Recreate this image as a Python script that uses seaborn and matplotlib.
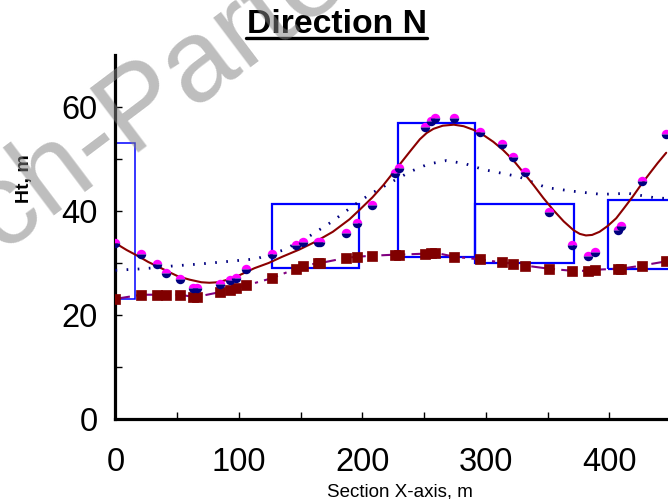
import matplotlib
matplotlib.use('Agg')
import matplotlib.pyplot as plt
from matplotlib.patches import Rectangle
from matplotlib.lines import Line2D
import seaborn as sns

sns.set_style('white')
plt.rcParams['font.family'] = ['Liberation Sans', 'DejaVu Sans']
plt.rcParams['text.color'] = 'black'
plt.rcParams['axes.labelcolor'] = 'black'
plt.rcParams['xtick.color'] = 'black'
plt.rcParams['ytick.color'] = 'black'

# 测点位置 (m)
x_pts = [0, 21, 34, 41, 52, 63, 66, 84.5, 92.5, 97.5, 106, 127, 146, 152, 164, 166,
         187, 195.5, 208, 226, 229.5, 251, 255.5, 258.5, 274.5, 295, 313, 322, 332,
         351, 370, 382.5, 388, 407, 409.5, 426, 445.5]
# 树高测点
ht_top = [33.9, 31.8, 29.8, 28.1, 26.9, 25.2, 25.2, 25.9, 26.7, 27.2, 28.8, 31.8, 33.4,
          34.0, 34.0, 34.0, 35.8, 37.7, 41.1, 47.3, 48.3, 56.2, 57.3, 57.8, 57.8, 55.2,
          52.8, 50.4, 47.5, 39.8, 33.4, 31.4, 32.2, 36.3, 37.2, 45.7, 54.9]
# 地面高程
ht_ground = [23.1, 23.9, 23.9, 23.9, 23.9, 23.5, 23.5, 24.4, 24.8, 25.2, 25.7, 27.1, 28.9,
             29.4, 30.0, 30.0, 31.0, 31.2, 31.4, 31.6, 31.6, 31.8, 31.9, 32.0, 31.2, 30.7,
             30.1, 29.9, 29.5, 28.9, 28.5, 28.5, 28.7, 28.9, 28.9, 29.5, 30.3]

# 拟合曲线
fit_x = [0, 9, 18.5, 26.5, 34.5, 43, 51, 60, 69.5, 76, 83, 91, 99, 112.5, 124, 135, 149,
         162, 176, 189.5, 198, 208, 217, 224, 231, 239, 246.5, 252, 257.5, 265, 274, 282,
         290, 298, 306, 314, 322, 330, 338.5, 346.5, 354.5, 363, 371, 376, 381, 386, 392,
         398.5, 405.5, 412, 419, 425.5, 432.5, 439, 446]
fit_y = [33.8, 32.5, 31.3, 30.2, 29.3, 28.3, 27.4, 26.8, 26.3, 26.2, 26.3, 26.8, 27.5,
         29.0, 30.0, 31.2, 32.6, 34.1, 36.0, 38.4, 40.3, 42.6, 45.0, 47.1, 49.2, 51.6,
         53.8, 55.0, 55.8, 56.4, 56.6, 56.3, 55.6, 54.6, 53.3, 51.7, 49.8, 47.5, 45.0,
         42.5, 40.2, 38.0, 36.3, 35.6, 35.3, 35.4, 36.0, 37.1, 38.6, 40.6, 42.8, 45.0,
         47.2, 49.2, 51.2]

# 平滑曲线 (点线)
smooth_x = [0, 23, 45, 68, 91, 114, 136, 156, 175, 193, 206, 226, 239, 253, 268, 283,
            297.5, 326.5, 349, 370.5, 393.5, 415, 438, 460]
smooth_y = [28.6, 28.9, 29.4, 29.8, 30.3, 30.8, 32.5, 35.0, 37.9, 41.1, 43.2, 45.9, 47.6,
            49.0, 49.7, 49.1, 48.0, 46.6, 44.5, 43.8, 43.2, 43.4, 42.5, 42.3]

# 分段方框
box_left = [0, 127, 229, 291, 399]
box_right = [16, 197.5, 291, 371, 470]
box_bottom = [23, 29, 31.2, 30, 28.8]
box_top = [53, 41.3, 57, 41.3, 42.1]

fig = plt.figure(figsize=(6.68, 4.99), dpi=100)
ax = fig.add_axes([0.1729, 0.1603, 0.8503, 0.7295])

for i in range(len(box_left)):
    ax.add_patch(Rectangle((box_left[i], box_bottom[i]), box_right[i] - box_left[i],
                           box_top[i] - box_bottom[i], fill=False, edgecolor='#0000FF',
                           lw=1.1 if i == 0 else 1.6, zorder=2))

sns.lineplot(x=smooth_x, y=smooth_y, ax=ax, color='#000080', lw=2.0,
             dashes=(0.6, 3.4), errorbar=None, zorder=3)
sns.lineplot(x=fit_x, y=fit_y, ax=ax, color='#8B0000', lw=1.5, errorbar=None, zorder=4)
sns.lineplot(x=x_pts, y=ht_ground, ax=ax, color='#800080', lw=1.5,
             dashes=(7, 3, 1.5, 3), errorbar=None, zorder=4)
sns.lineplot(x=x_pts, y=ht_ground, ax=ax, marker='s', linestyle='none', markersize=6.5,
             markerfacecolor='#800000', markeredgecolor='#800000', mew=0.5,
             errorbar=None, zorder=5)
sns.lineplot(x=x_pts, y=ht_top, ax=ax, marker='o', linestyle='none', markersize=6.8,
             fillstyle='top', markerfacecolor='#FF00FF', markerfacecoloralt='#000080',
             markeredgecolor='none', mew=0, errorbar=None, zorder=6)

ax.set_xlim(0, 460)
ax.set_ylim(0, 70)
ax.set_xticks([0, 100, 200, 300, 400])
ax.set_xticks([50, 150, 250, 350, 450], minor=True)
ax.set_yticks([0, 20, 40, 60])
ax.set_yticks([10, 30, 50], minor=True)
ax.tick_params(which='both', direction='in', length=5, width=1, color='black',
               bottom=True, left=True, top=False, right=False)
ax.tick_params(axis='both', which='major', labelsize=23.5, labelcolor='black')
ax.tick_params(axis='y', pad=13)
ax.tick_params(axis='x', pad=20)
for s in ['top', 'right']:
    ax.spines[s].set_visible(False)
for s in ['left', 'bottom']:
    ax.spines[s].set_linewidth(2.3)
    ax.spines[s].set_color('black')

ax.set_xlabel('Section X-axis, m', fontsize=13.5, labelpad=4, color='black')
fig.text(25 / 668, 1 - 179 / 499, 'Ht, m', rotation=90, ha='center', va='center',
         fontsize=14, fontweight='bold', color='black')

# 标题加下划线
fig.text(336.7 / 668, 1 - 33 / 499, 'Direction N', ha='center', va='baseline',
         fontsize=24.3, fontweight='bold', color='black')
fig.add_artist(Line2D([246 / 668, 427 / 668], [1 - 38 / 499, 1 - 38 / 499],
                      transform=fig.transFigure, color='black', lw=2.4))

# 水印
fig.text(0 / 668, 1 - 252 / 499, 'ch-Parte', rotation=37, rotation_mode='anchor',
         ha='left', va='baseline', fontsize=84, color='#828282', alpha=0.52, zorder=10)

fig.savefig('out.png', dpi=100)
